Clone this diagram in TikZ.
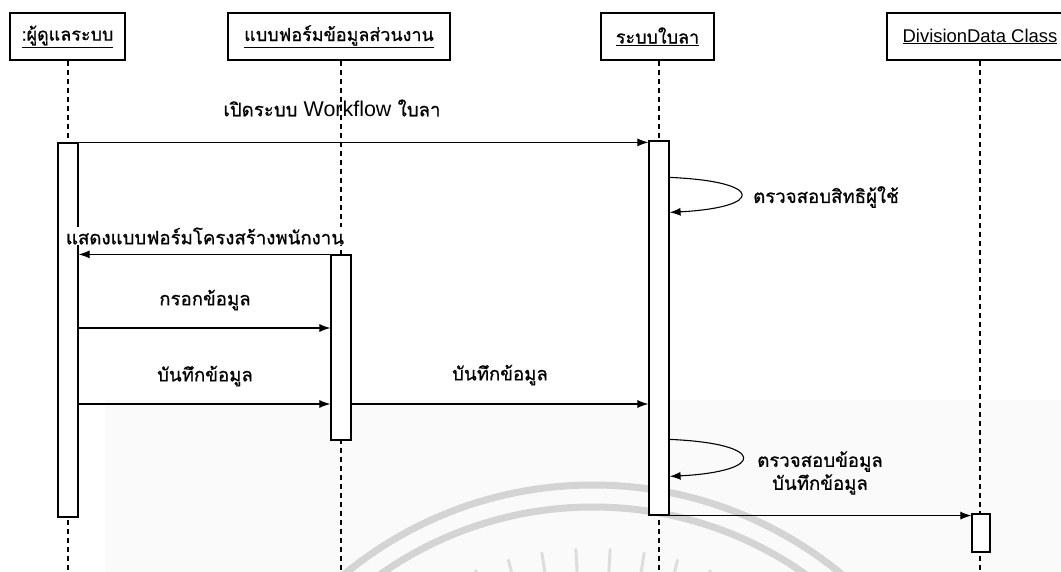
\documentclass[tikz,border=0pt]{standalone}
\usepackage{fontspec}
\setmainfont{Liberation Sans}
\newfontfamily\thai[Script=Thai,FakeBold=0.8]{Loma}
\usetikzlibrary{arrows.meta,calc}
\definecolor{seal}{HTML}{D4D4D4}
\definecolor{paper}{HTML}{FAFAFA}
\begin{document}
\begin{tikzpicture}[x=1bp,y=-1bp,
  head/.style={draw, line width=1.2bp, minimum height=47bp, inner sep=0pt,
    font=\thai\fontsize{18}{21}\selectfont},
  bar/.style={draw, fill=white, line width=1.2bp, minimum width=20bp, inner sep=0pt},
  life/.style={line width=1.5bp, dash pattern=on 5bp off 4bp},
  msg/.style={line width=1.1bp, -{Latex[length=11bp,width=8bp]}},
  lbl/.style={font=\thai\fontsize{18.7}{23}\selectfont, inner sep=1bp, align=center},
]
% page
\fill[white] (0,0) rectangle (1061,572);
\useasboundingbox (0,0) rectangle (1061,572);

% faint seal in the background
\begin{scope}
  \clip (0,0) rectangle (1061,572);
  \fill[paper] (105,400) rectangle (1061,572);
  \coordinate (sc) at (593,876);
  \draw[seal, line width=7bp] (sc) circle (391);
  \draw[seal, line width=7bp] (sc) circle (369);
  \foreach \a in {-69,-75,...,-111}
    \draw[seal!80, line width=3bp, line cap=round] ($(sc)+(\a:292)$) -- ($(sc)+(\a:327)$);
\end{scope}

% object headers
\node[head, minimum width=115bp] (u) at (67.5,36.5) {\underline{:ผู้ดูแลระบบ}};
\node[head, minimum width=222bp] (f) at (339,36.5) {\underline{แบบฟอร์มข้อมูลส่วนงาน}};
\node[head, minimum width=113bp] (s) at (657.5,36.5) {\underline{ระบบใบลา}};
\node[head, minimum width=186bp, font=\fontsize{18.5}{21}\selectfont] (d) at (980,36.5) {\underline{DivisionData Class}};

% lifeline ends
\coordinate (uend) at (68,572);
\coordinate (fend) at (341,572);
\coordinate (send) at (659,572);
\coordinate (dend) at (980,572);
\draw[life] (u.south -| uend) -- (uend);
\draw[life] (f.south -| fend) -- (fend);
\draw[life] (s.south -| send) -- (send);
\draw[life] (d.south -| dend) -- (dend);

% activation bars
\node[bar, minimum height=374bp] (ua) at (68,330) {};
\node[bar, minimum height=185bp] (fa) at (341,347.5) {};
\node[bar, minimum height=374bp] (sa) at (659,328) {};
\node[bar, minimum height=38bp, minimum width=18bp] (da) at (981,533) {};

% message rows
\coordinate (m3) at (0,328);
\coordinate (m4) at (0,404);

% messages
\draw[msg] (ua.north west) -- (ua.north west -| sa.west);
\node[lbl] (l1) at (332,108) {เปิดระบบ {\fontspec{Liberation Sans}\fontsize{21.5}{24}\selectfont Workflow} ใบลา};

\draw[msg] ([yshift=-37bp]sa.north east) .. controls +(95,4) and +(95,-5) .. ([yshift=-72bp]sa.north east);
\node[lbl, anchor=west] (l2) at (752,197) {ตรวจสอบสิทธิผู้ใช้};

\draw[msg] (fa.north west) -- (fa.north west -| ua.east);
\node[lbl, fill=white] (l3) at (205,236) {แสดงแบบฟอร์มโครงสร้างพนักงาน};

\draw[msg] (ua.east |- m3) -- (fa.west |- m3);
\node[lbl] (l4) at (205,300) {กรอกข้อมูล};

\draw[msg] (ua.east |- m4) -- (fa.west |- m4);
\node[lbl] (l5) at (205,376) {บันทึกข้อมูล};

\draw[msg] (fa.east |- m4) -- (sa.west |- m4);
\node[lbl] (l6) at (500,375) {บันทึกข้อมูล};

\draw[msg] ([yshift=-299bp]sa.north east) .. controls +(97,4) and +(97,-5) .. ([yshift=-336bp]sa.north east);
\node[lbl] (l7) at (820,473) {ตรวจสอบข้อมูล\\บันทึกข้อมูล};

\draw[msg] (sa.south east) -- (sa.south east -| da.west);
\end{tikzpicture}
\end{document}
